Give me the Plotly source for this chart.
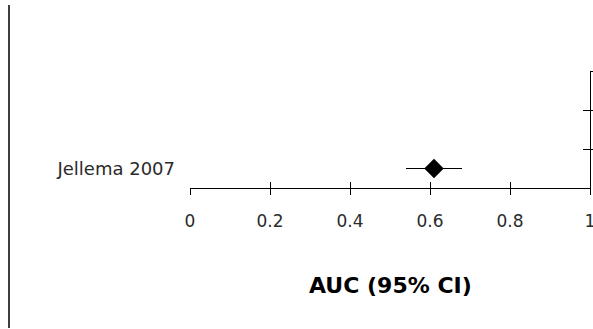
import plotly.graph_objects as go

# Study-level estimate for the forest plot
studies = ["Jellema 2007"]
auc = [0.61]
ci_lower = [0.54]
ci_upper = [0.68]
row_pos = [0.5]

x_ticks = [0, 0.2, 0.4, 0.6, 0.8, 1]
x_tick_text = ["0", "0.2", "0.4", "0.6", "0.8", "1"]
right_ticks = [1, 2, 3]

FONT = "DejaVu Sans"

fig = go.Figure()

# Point estimate with its confidence interval
fig.add_trace(go.Scatter(
    x=auc, y=row_pos, mode="markers",
    marker=dict(symbol="diamond", size=15, color="black"),
    error_x=dict(type="data", symmetric=False,
                 array=[u - a for u, a in zip(ci_upper, auc)],
                 arrayminus=[a - l for a, l in zip(auc, ci_lower)],
                 color="black", thickness=1, width=0),
    showlegend=False, hoverinfo="skip",
))

# Empty traces so the overlay axes (crossing tick marks) get drawn
fig.add_trace(go.Scatter(x=[], y=[], xaxis="x2", yaxis="y", showlegend=False))
fig.add_trace(go.Scatter(x=[], y=[], xaxis="x", yaxis="y2", showlegend=False))
fig.add_trace(go.Scatter(x=[], y=[], xaxis="x", yaxis="y3", showlegend=False))

fig.update_layout(
    width=593, height=329,
    margin=dict(l=190, r=3, t=71, b=141, autoexpand=False),
    paper_bgcolor="white", plot_bgcolor="white",
    font=dict(family=FONT, color="#222"),
    xaxis=dict(
        range=[0, 1], showgrid=False, zeroline=False, automargin=False,
        showline=True, linecolor="black", linewidth=1,
        ticks="outside", ticklen=6, tickcolor="black", tickwidth=1,
        tickvals=x_ticks, ticktext=x_tick_text,
        tickfont=dict(family=FONT, size=17, color="#2a2a2a"),
        ticklabelstandoff=12, ticklabeloverflow="allow",
    ),
    xaxis2=dict(
        overlaying="x", anchor="y", side="bottom", automargin=False,
        range=[0, 1], showgrid=False, zeroline=False, showline=False,
        ticks="inside", ticklen=6, tickcolor="black", tickwidth=1,
        tickvals=x_ticks, showticklabels=False,
    ),
    yaxis=dict(
        range=[0, 3], showgrid=False, zeroline=False, showline=False,
        automargin=False,
        ticks="", tickvals=row_pos, ticktext=studies,
        tickfont=dict(family=FONT, size=18, color="#2a2a2a"),
        ticklabelstandoff=14,
    ),
    yaxis2=dict(
        overlaying="y", anchor="x", side="right", automargin=False,
        range=[0, 3], showgrid=False, zeroline=False,
        showline=True, linecolor="black", linewidth=1,
        ticks="outside", ticklen=3, tickcolor="black",
        tickvals=right_ticks, showticklabels=False,
    ),
    yaxis3=dict(
        overlaying="y", anchor="x", side="right", automargin=False,
        range=[0, 3], showgrid=False, zeroline=False, showline=False,
        ticks="inside", ticklen=7, tickcolor="black",
        tickvals=right_ticks, showticklabels=False,
    ),
    annotations=[dict(
        text="<b>AUC (95% CI)</b>", xref="paper", yref="paper",
        x=0.5, y=(188 - 285) / 117, xanchor="center", yanchor="middle",
        showarrow=False, font=dict(family=FONT, size=22, color="black"),
    )],
    shapes=[dict(
        type="line", xref="paper", yref="paper",
        x0=(9 - 190) / 400, x1=(9 - 190) / 400,
        y0=(188 - 328) / 117, y1=(188 - 5) / 117,
        line=dict(color="black", width=1.5),
    )],
)

fig.write_html("out.html")
